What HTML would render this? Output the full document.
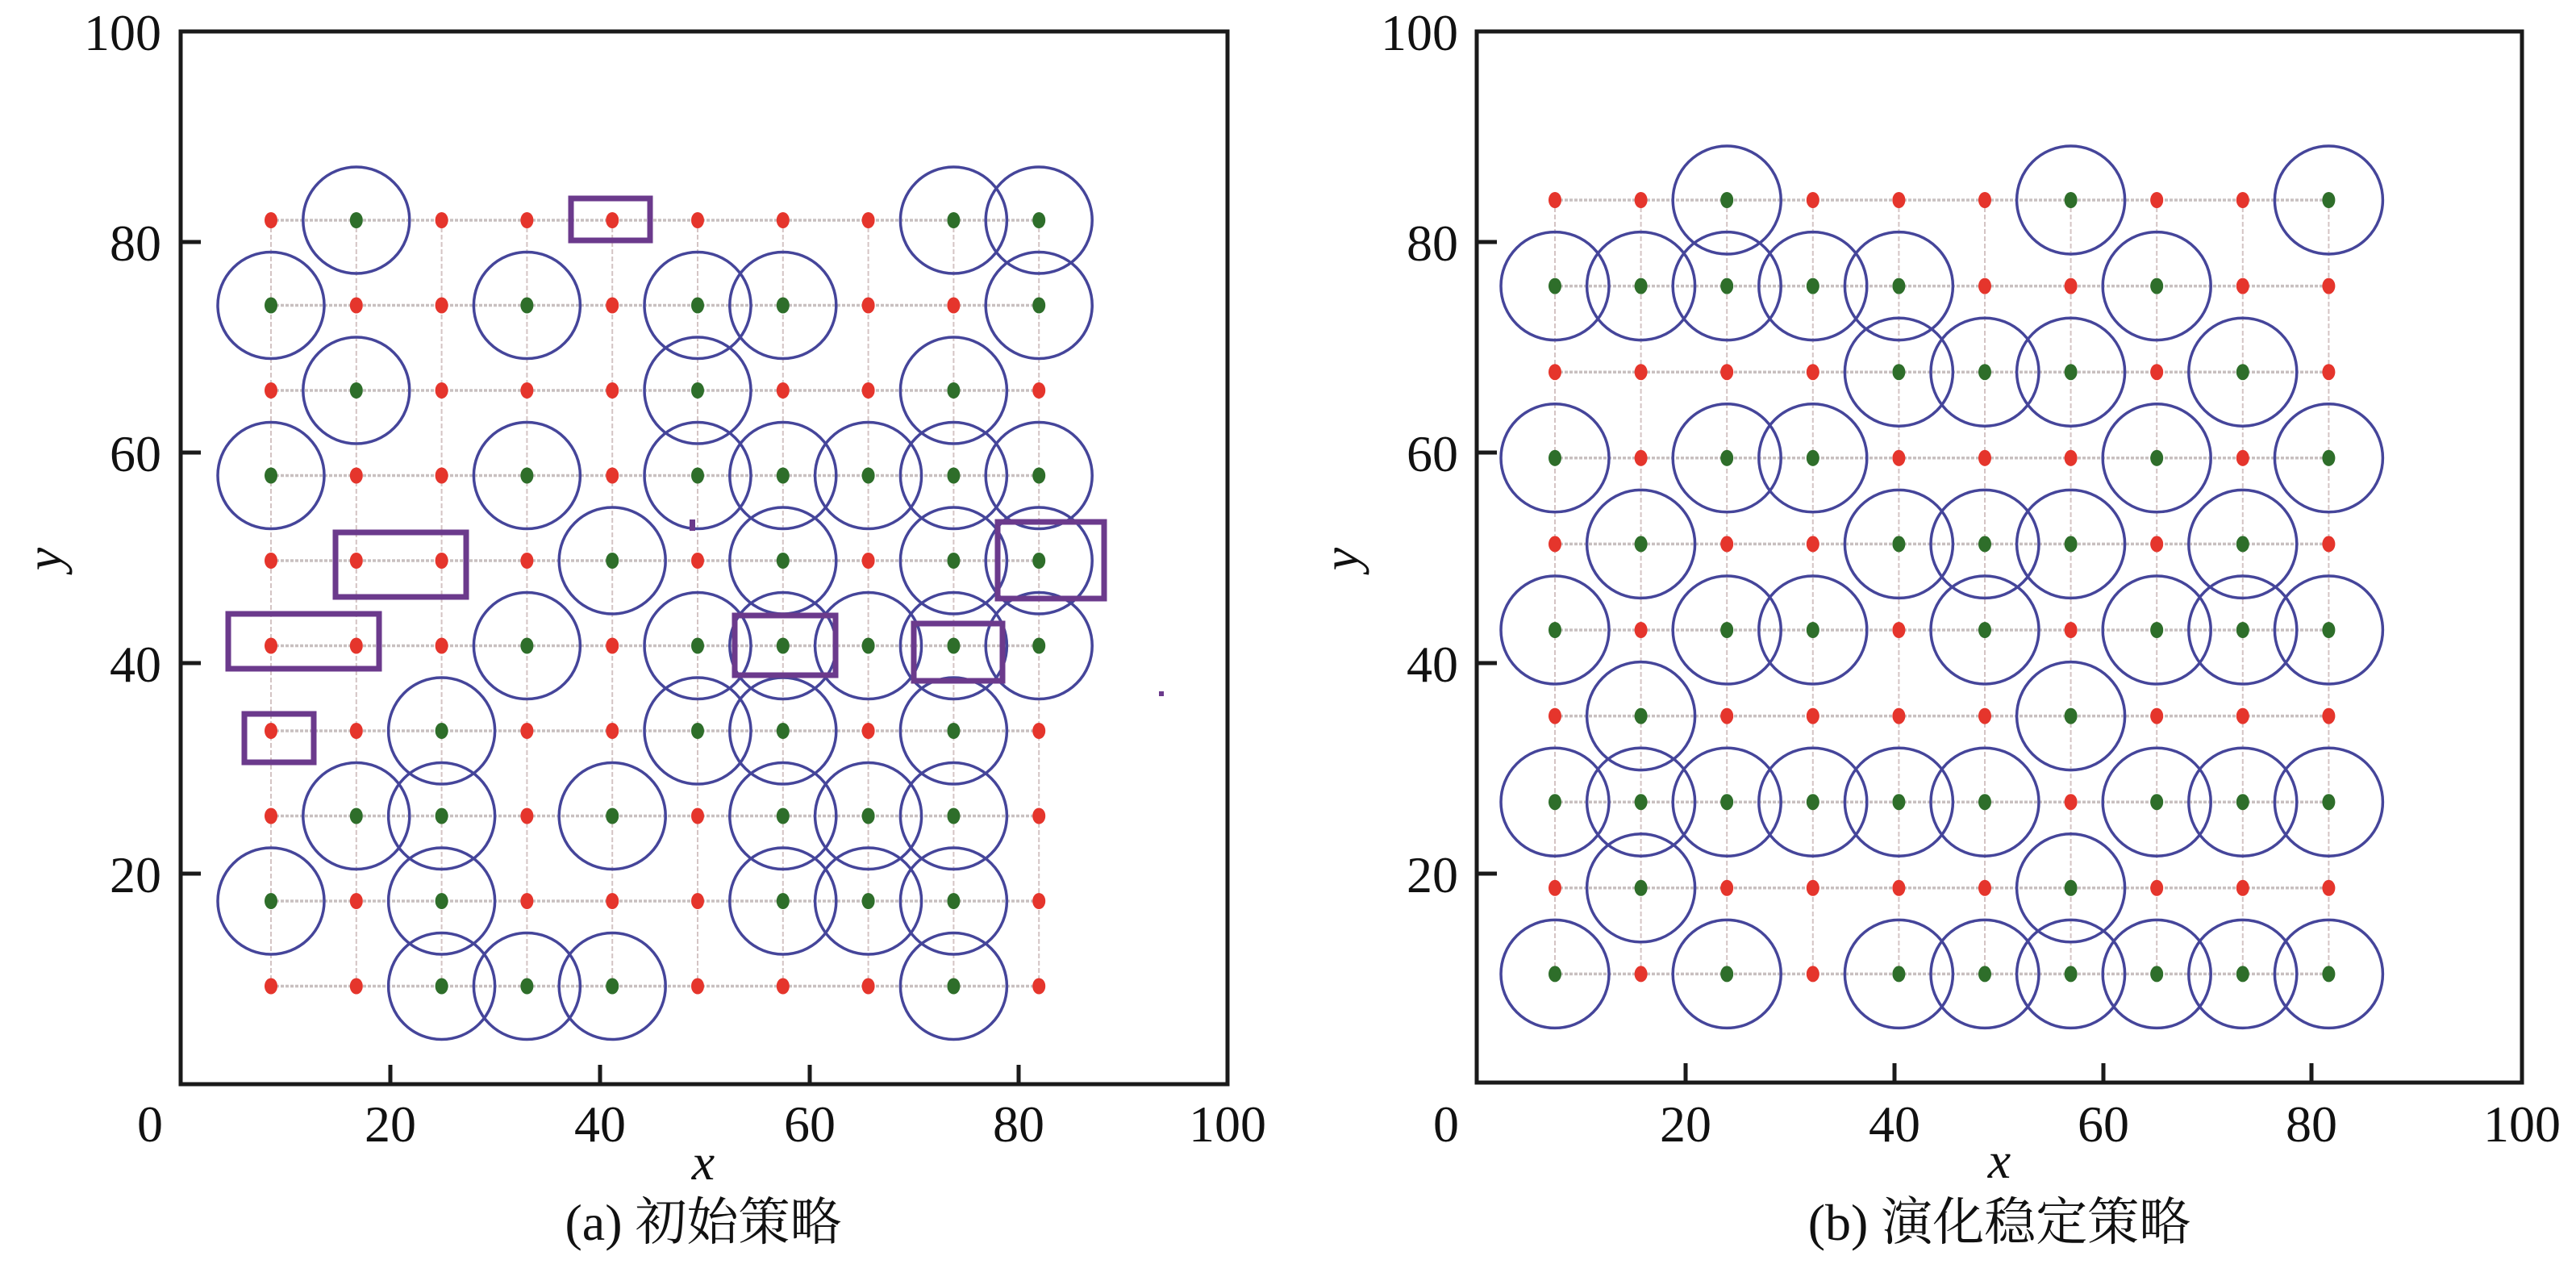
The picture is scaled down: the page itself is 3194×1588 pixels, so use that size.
<!DOCTYPE html>
<html><head><meta charset="utf-8"><style>
html,body{margin:0;padding:0;background:#fff;}
svg{display:block;}
text{font-family:"Liberation Serif","Noto Serif CJK SC",serif;fill:#111;}
</style></head><body>
<svg id="s" width="3194" height="1588" viewBox="0 0 3194 1588" xmlns="http://www.w3.org/2000/svg">
<g id="grid"></g><g id="circ"></g><g id="dots"></g>
<g fill="none" stroke="#6b3a8c" stroke-width="7">
<rect x="708" y="246" width="98" height="52"/>
<rect x="416" y="660" width="162" height="80"/>
<rect x="1237" y="647" width="132" height="95"/>
<rect x="283" y="761" width="187" height="68"/>
<rect x="911" y="763" width="125" height="74"/>
<rect x="1133" y="773" width="110" height="71"/>
<rect x="303" y="885" width="86" height="60"/>
</g>
<rect x="855" y="644" width="7" height="14" fill="#6b3a8c"/>
<rect x="1437" y="857" width="6" height="6" fill="#6b3a8c"/>
<g fill="none" stroke="#1a1a1a" stroke-width="5">
<rect x="224" y="39" width="1298" height="1305"/>
<rect x="1831" y="39" width="1296" height="1303"/>
</g>
<g stroke="#1a1a1a" stroke-width="5">
<line x1="224" y1="300" x2="249" y2="300"/><line x1="224" y1="561" x2="249" y2="561"/>
<line x1="224" y1="822" x2="249" y2="822"/><line x1="224" y1="1083" x2="249" y2="1083"/>
<line x1="484" y1="1344" x2="484" y2="1320"/><line x1="744" y1="1344" x2="744" y2="1320"/>
<line x1="1004" y1="1344" x2="1004" y2="1320"/><line x1="1263" y1="1344" x2="1263" y2="1320"/>
<line x1="1831" y1="300" x2="1856" y2="300"/><line x1="1831" y1="561" x2="1856" y2="561"/>
<line x1="1831" y1="822" x2="1856" y2="822"/><line x1="1831" y1="1083" x2="1856" y2="1083"/>
<line x1="2090" y1="1342" x2="2090" y2="1318"/><line x1="2349" y1="1342" x2="2349" y2="1318"/>
<line x1="2608" y1="1342" x2="2608" y2="1318"/><line x1="2866" y1="1342" x2="2866" y2="1318"/>
</g>
<g font-size="64" text-anchor="end">
<text x="200" y="62">100</text><text x="200" y="323">80</text><text x="200" y="584">60</text><text x="200" y="845">40</text><text x="200" y="1106">20</text>
<text x="1808" y="62">100</text><text x="1808" y="323">80</text><text x="1808" y="584">60</text><text x="1808" y="845">40</text><text x="1808" y="1106">20</text>
</g>
<g font-size="64" text-anchor="middle">
<text x="186" y="1415">0</text><text x="484" y="1415">20</text><text x="744" y="1415">40</text><text x="1004" y="1415">60</text><text x="1263" y="1415">80</text><text x="1522" y="1415">100</text>
<text x="1793" y="1415">0</text><text x="2090" y="1415">20</text><text x="2349" y="1415">40</text><text x="2608" y="1415">60</text><text x="2866" y="1415">80</text><text x="3127" y="1415">100</text>
<text x="872" y="1462" font-style="italic">x</text>
<text x="2479" y="1460" font-style="italic">x</text>
<text x="872" y="1537" font-size="64">(a) 初始策略</text>
<text x="2479" y="1537" font-size="64">(b) 演化稳定策略</text>
</g>
<text font-size="64" font-style="italic" text-anchor="middle" transform="translate(76,693) rotate(-90)">y</text>
<text font-size="64" font-style="italic" text-anchor="middle" transform="translate(1684,693) rotate(-90)">y</text>
</svg>
<script>
var NS="http://www.w3.org/2000/svg";
function el(p,t,a){var e=document.createElementNS(NS,t);for(var k in a)e.setAttribute(k,a[k]);document.getElementById(p).appendChild(e);}
function plot(x0,y0,dx,dy,r,pat){
 var xs=[],ys=[];for(var i=0;i<10;i++){xs.push(x0+dx*i);ys.push(y0+dy*i);}
 for(var i=0;i<10;i++){
  el("grid","line",{x1:xs[0],y1:ys[i],x2:xs[9],y2:ys[i],stroke:"#c8c0c0","stroke-width":3.5,"stroke-dasharray":"4 2"});
  el("grid","line",{x1:xs[i],y1:ys[0],x2:xs[i],y2:ys[9],stroke:"#d4c4c4","stroke-width":2,"stroke-dasharray":"6 3"});
 }
 for(var j=0;j<10;j++)for(var i=0;i<10;i++){
  var g=pat[j][i]=="G";
  if(g)el("circ","circle",{cx:xs[i],cy:ys[j],r:r,fill:"none",stroke:"#45459a","stroke-width":3.5});
  el("dots","ellipse",{cx:xs[i],cy:ys[j],rx:8,ry:10,fill:g?"#2e6e2a":"#e5352c"});
 }
}
plot(336,273,105.8,105.5,66,[
"RGRRRRRRGG","GRRGRGGRRG","RGRRRGRRGR","GRRGRGGGGG","RRRRGRGRGG",
"RRRGRGGGGG","RRGRRGGRGR","RGGRGRGGGR","GRGRRRGGGR","RRGGGRRRGR"]);
plot(1928,248,106.6,106.6,67,[
"RRGRRRGRRG","GGGGGRRGRR","RRRRGGGRGR","GRGGRRRGRG","RGRRGGGRGR",
"GRGGRGRGGG","RGRRRRGRRR","GGGGGGRGGG","RGRRRRGRRR","GRGRGGGGGG"]);
</script>
</body></html>
